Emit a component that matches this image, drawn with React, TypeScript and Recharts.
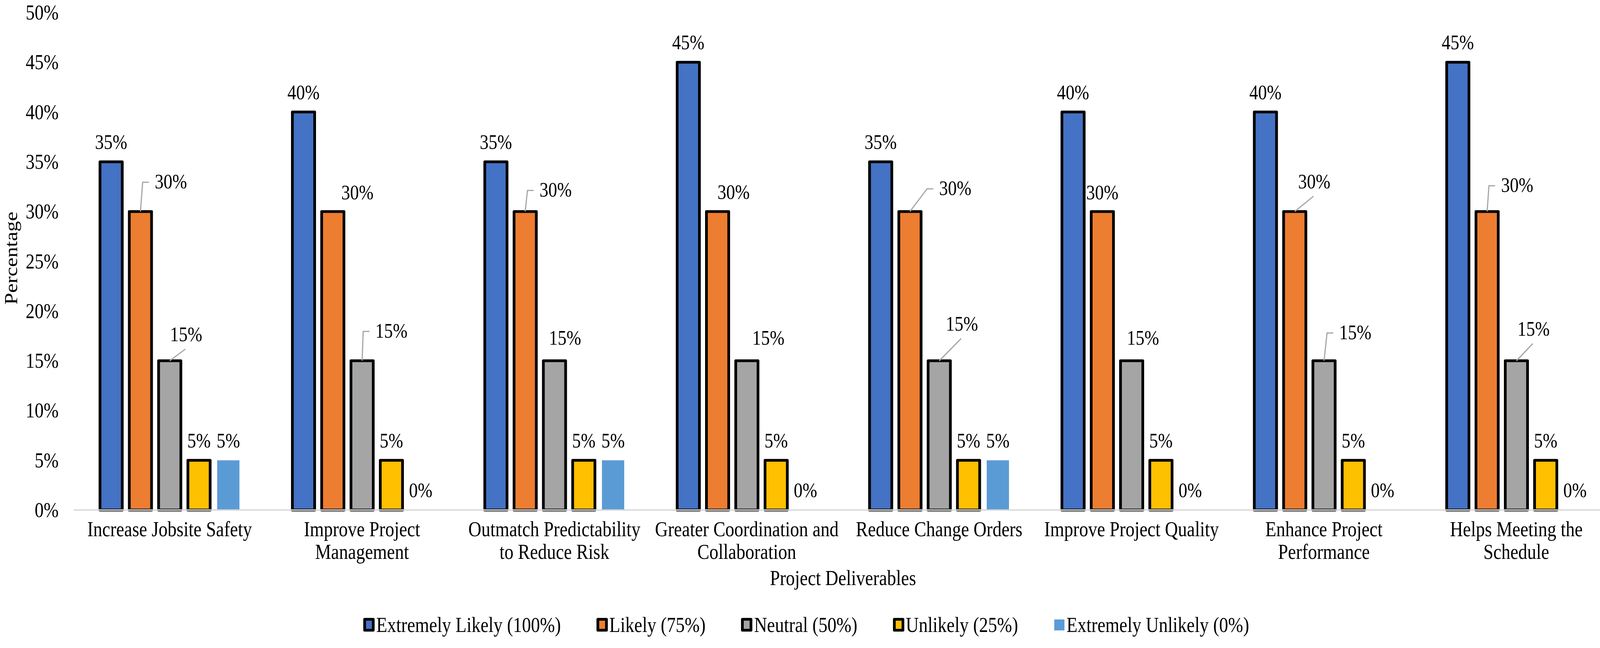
import React from "react";
import { BarChart, Bar, XAxis, YAxis, Legend, LabelList } from "recharts";

// categories + survey answers (percent of respondents)
const categories = [
  "Increase Jobsite Safety",
  "Improve Project Management",
  "Outmatch Predictability to Reduce Risk",
  "Greater Coordination and Collaboration",
  "Reduce Change Orders",
  "Improve Project Quality",
  "Enhance Project Performance",
  "Helps Meeting the Schedule",
];
const extremelyLikely = [35, 40, 35, 45, 35, 40, 40, 45];
const likely = [30, 30, 30, 30, 30, 30, 30, 30];
const neutral = [15, 15, 15, 15, 15, 15, 15, 15];
const unlikely = [5, 5, 5, 5, 5, 5, 5, 5];
const extremelyUnlikely = [5, 0, 5, 0, 5, 0, 0, 0];
const yTicks = [0, 5, 10, 15, 20, 25, 30, 35, 40, 45, 50];

// manually moved data labels (offset of text from bar top centre + leader kind)
type LabelPos = [number, number, "none" | "side" | "below"];
const likelyLabelPos: LabelPos[] = [
  [78, -59, "side"], [63, -31, "none"], [78, -38, "side"], [41, -32, "none"],
  [116, -42, "side"], [0, -31, "none"], [50, -59, "below"], [77, -50, "side"],
];
const neutralLabelPos: LabelPos[] = [
  [42, -50, "below"], [75, -59, "side"], [27, -41, "none"], [55, -41, "none"],
  [58, -77, "below"], [29, -41, "none"], [80, -55, "side"], [44, -64, "below"],
];

const FONT = "'Liberation Serif', 'Times New Roman', serif";
const STRETCH = 1.18;
const LEADER = "#A6A6A6";

const series = [
  { key: "extremelyLikely", name: "Extremely Likely (100%)", color: "#4472C4", outlined: true, pos: undefined },
  { key: "likely", name: "Likely (75%)", color: "#ED7D31", outlined: true, pos: likelyLabelPos },
  { key: "neutral", name: "Neutral (50%)", color: "#A5A5A5", outlined: true, pos: neutralLabelPos },
  { key: "unlikely", name: "Unlikely (25%)", color: "#FFC000", outlined: true, pos: undefined },
  { key: "extremelyUnlikely", name: "Extremely Unlikely (0%)", color: "#5B9BD5", outlined: false, pos: undefined },
];

const data = categories.map((category, i) => ({
  category,
  extremelyLikely: extremelyLikely[i],
  likely: likely[i],
  neutral: neutral[i],
  unlikely: unlikely[i],
  extremelyUnlikely: extremelyUnlikely[i],
}));

let measureCtx: CanvasRenderingContext2D | null = null;
const textWidth = (t: string, size: number) => {
  if (!measureCtx) measureCtx = document.createElement("canvas").getContext("2d");
  if (!measureCtx) return t.length * size * 0.5;
  measureCtx.font = `${size}px "Liberation Serif"`;
  return measureCtx.measureText(t).width;
};

const wrapText = (text: string, maxWidth: number, size: number) => {
  const lines: string[] = [];
  let cur = "";
  for (const w of text.split(" ")) {
    const next = cur ? `${cur} ${w}` : w;
    if (cur && textWidth(next, size) > maxWidth) {
      lines.push(cur);
      cur = w;
    } else cur = next;
  }
  if (cur) lines.push(cur);
  return lines;
};

// the picture is a bit taller than Times metrics, so stretch text vertically
const StretchText = ({ x, y, anchor = "middle", size = 46, rotate, children }: any) => (
  <text
    transform={`translate(${x},${y}) scale(1,${STRETCH})${rotate ? ` rotate(${rotate})` : ""}`}
    textAnchor={anchor}
    fontFamily={FONT}
    fontSize={size}
    fill="#000"
  >
    {children}
  </text>
);

const makeLabel = (pos?: LabelPos[]) => (props: any) => {
  const vb = props.viewBox ?? props;
  const x = Number(vb.x ?? props.x);
  const y = Number(vb.y ?? props.y);
  const w = Number(vb.width ?? props.width);
  const h = Number(vb.height ?? props.height);
  const index = props.index ?? 0;
  const value = Math.round(Number(props.value ?? 0));
  const label = `${value}%`;
  const cx = x + w / 2;
  const top = value === 0 ? Math.max(y, y + h) : Math.min(y, y + h);
  const [dx, dy, leader] = pos?.[index] ?? [0, -33, "none"];
  const tx = cx + dx;
  const ty = top + dy;
  let path = "";
  if (leader === "side") {
    const left = tx - textWidth(label, 45) / 2;
    const mid = ty - 16;
    path = `M${cx},${top} L${left - 31},${mid} L${left - 15},${mid}`;
  } else if (leader === "below") {
    path = `M${cx},${top} L${tx - 2},${ty + 20}`;
  }
  return (
    <g>
      {path && <path d={path} stroke={LEADER} strokeWidth={3} fill="none" />}
      <StretchText x={tx} y={ty} size={45}>
        {label}
      </StretchText>
    </g>
  );
};

const CategoryTick = (props: any) => {
  const { x, y, payload } = props;
  const lines = wrapText(String(payload.value), 480, 46);
  return (
    <g>
      {lines.map((l, i) => (
        <StretchText key={i} x={x} y={y + 67 + i * 58}>
          {l}
        </StretchText>
      ))}
    </g>
  );
};

const PercentTick = (props: any) => (
  <StretchText x={props.x} y={props.y + 18} anchor="end">
    {`${props.payload.value}%`}
  </StretchText>
);

const YTitle = (props: any) => {
  const vb = props.viewBox ?? { x: 0, y: 32, width: 188, height: 1273 };
  return (
    <StretchText x={vb.x + 44} y={vb.y + vb.height / 2 - 8} rotate={-90}>
      Percentage
    </StretchText>
  );
};

const XTitle = (props: any) => {
  const vb = props.viewBox ?? { x: 188, y: 1305, width: 3940, height: 273 };
  return (
    <StretchText x={vb.x + vb.width / 2} y={vb.y + 192}>
      Project Deliverables
    </StretchText>
  );
};

const LegendContent = () => (
  <div
    style={{
      height: 80,
      boxSizing: "border-box",
      paddingTop: 14,
      display: "flex",
      justifyContent: "center",
      alignItems: "center",
      gap: 91,
      transform: "translateY(-26px)",
    }}
  >
    {series.map((s) => (
      <div key={s.key} style={{ display: "flex", alignItems: "center" }}>
        <svg width={30} height={36} style={{ display: "block" }}>
          {s.outlined ? (
            <rect x={3.5} y={3.5} width={22} height={28} fill={s.color} stroke="#000" strokeWidth={7} strokeLinejoin="round" />
          ) : (
            <rect x={2} y={4} width={26} height={28} fill={s.color} />
          )}
        </svg>
        <span
          style={{
            fontFamily: FONT,
            fontSize: 46,
            lineHeight: 1,
            whiteSpace: "nowrap",
            display: "inline-block",
            marginLeft: 3,
            transform: `scaleY(${STRETCH})`,
          }}
        >
          {s.name}
        </span>
      </div>
    ))}
  </div>
);

export default function App() {
  return (
    <div style={{ position: "absolute", left: 0, top: 0, background: "#fff" }}>
      <BarChart
        width={4140}
        height={1658}
        data={data}
        margin={{ top: 32, right: 12, bottom: 0, left: 0 }}
        barSize={57}
        barGap={18}
      >
        <XAxis
          dataKey="category"
          interval={0}
          height={273}
          tickLine={false}
          tickSize={0}
          tickMargin={0}
          axisLine={{ stroke: "#D9D9D9", strokeWidth: 3.5 }}
          tick={<CategoryTick />}
          label={<XTitle />}
        />
        <YAxis
          domain={[0, 50]}
          ticks={yTicks}
          width={188}
          axisLine={false}
          tickLine={false}
          tickSize={0}
          tickMargin={38}
          tick={<PercentTick />}
          label={<YTitle />}
        />
        <Legend verticalAlign="bottom" content={<LegendContent />} />
        {series.map((s) => (
          <Bar
            key={s.key}
            dataKey={s.key}
            name={s.name}
            fill={s.color}
            stroke={s.outlined ? "#000" : "none"}
            strokeWidth={s.outlined ? 7 : 0}
            strokeLinejoin="round"
            minPointSize={s.outlined ? 0 : 0.01}
            isAnimationActive={false}
          >
            <LabelList dataKey={s.key} content={makeLabel(s.pos)} />
          </Bar>
        ))}
      </BarChart>
    </div>
  );
}
